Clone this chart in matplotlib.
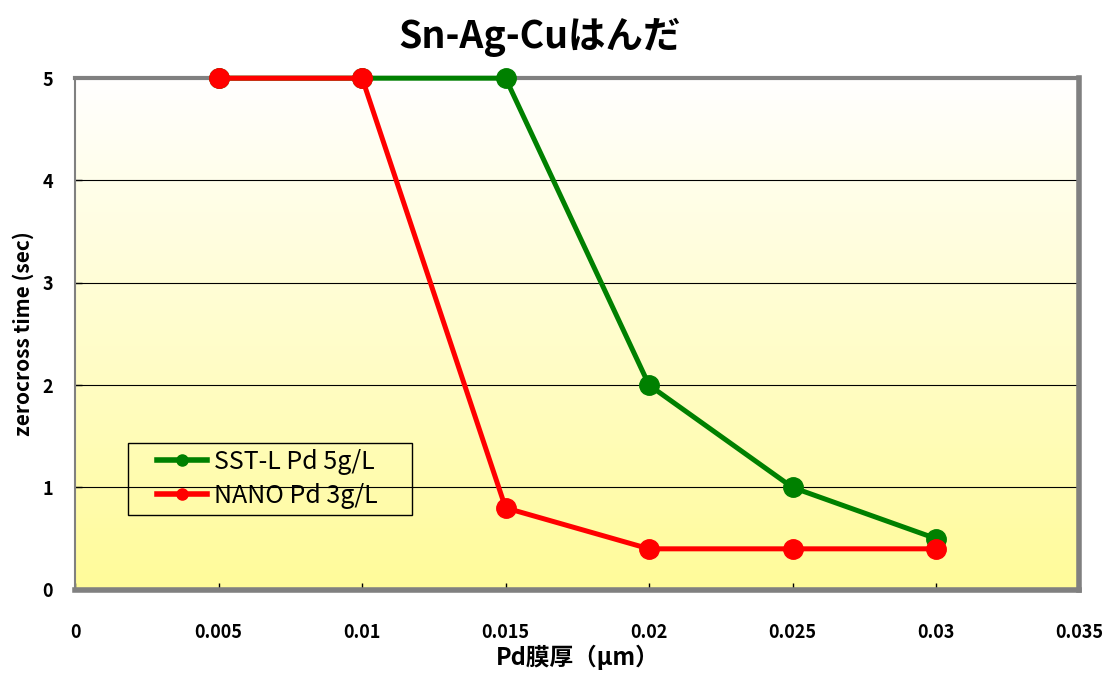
import numpy as np
import matplotlib.pyplot as plt
from matplotlib.lines import Line2D
from matplotlib.patches import Rectangle

plt.rcParams['font.family'] = ['Noto Sans CJK JP', 'DejaVu Sans']

# Pd thickness (um) and zerocross time (sec)
pd_thick = [0.005, 0.01, 0.015, 0.02, 0.025, 0.03]
sst_time = [5, 5, 5, 2, 1, 0.5]
nano_time = [5, 5, 0.8, 0.4, 0.4, 0.4]
series_names = ['SST-L Pd 5g/L', 'NANO Pd 3g/L']
xticks = [0, 0.005, 0.01, 0.015, 0.02, 0.025, 0.03, 0.035]
xticklabels = ['0', '0.005', '0.01', '0.015', '0.02', '0.025', '0.03', '0.035']

fig = plt.figure(figsize=(11.06, 6.74), dpi=100)
ax = fig.add_axes([0.068, 0.125, 0.908, 0.759])

# white (top) to yellow (bottom) background
grad = np.linspace(0, 1, 256).reshape(-1, 1)
top = np.array([1.0, 1.0, 1.0])
bot = np.array([1.0, 0.985, 0.6])
img = top + (bot - top) * grad[..., None]
ax.imshow(img, extent=[0, 0.035, 0, 5], origin='upper', aspect='auto', zorder=0)
ax.set_xlim(0, 0.035)
ax.set_ylim(0, 5)

for y in [1, 2, 3, 4]:
    ax.axhline(y, color='black', lw=0.8, zorder=1)

ax.plot(pd_thick, sst_time, color='#008000', lw=3.6, marker='o', ms=14,
        zorder=3, clip_on=False)
ax.plot(pd_thick, nano_time, color='#ff0000', lw=3.6, marker='o', ms=14,
        zorder=4, clip_on=False)

for s in ax.spines.values():
    s.set_color('#808080')
ax.spines['left'].set_linewidth(1.5)
ax.spines['top'].set_linewidth(3)
ax.spines['bottom'].set_linewidth(4)
ax.spines['right'].set_linewidth(4)

ax.set_xticks(xticks)
ax.set_xticklabels(xticklabels)
ax.set_yticks([0, 1, 2, 3, 4, 5])
ax.tick_params(direction='in', length=5, color='black', width=1, labelsize=13)
ax.tick_params(axis='x', pad=24)
ax.tick_params(axis='y', pad=16)
for lbl in ax.get_xticklabels() + ax.get_yticklabels():
    lbl.set_fontweight('bold')

ax.set_xlabel('Pd膜厚（μm）', fontsize=17, fontweight='bold', labelpad=2)
ax.set_ylabel('zerocross time (sec)', fontsize=15, fontweight='bold', labelpad=6)
fig.text(0.488, 0.945, 'Sn-Ag-Cuはんだ', fontsize=27, fontweight='bold',
         ha='center', va='center')

# legend box drawn separately so it can be wider than the entries
ax.add_patch(Rectangle((0.0528, 0.146), 0.283, 0.141, transform=ax.transAxes,
                       fill=False, edgecolor='black', lw=1, zorder=5))
handles = [Line2D([], [], color='#008000', lw=4, marker='o', ms=8),
           Line2D([], [], color='#ff0000', lw=4, marker='o', ms=8)]
leg = ax.legend(handles, series_names, loc='upper left',
                bbox_to_anchor=(0.081, 0.275), fontsize=18, frameon=False,
                handlelength=2.0, borderpad=0, labelspacing=0.3,
                handletextpad=0.3, borderaxespad=0)
leg.set_zorder(5)

fig.savefig('out.png', dpi=100)
